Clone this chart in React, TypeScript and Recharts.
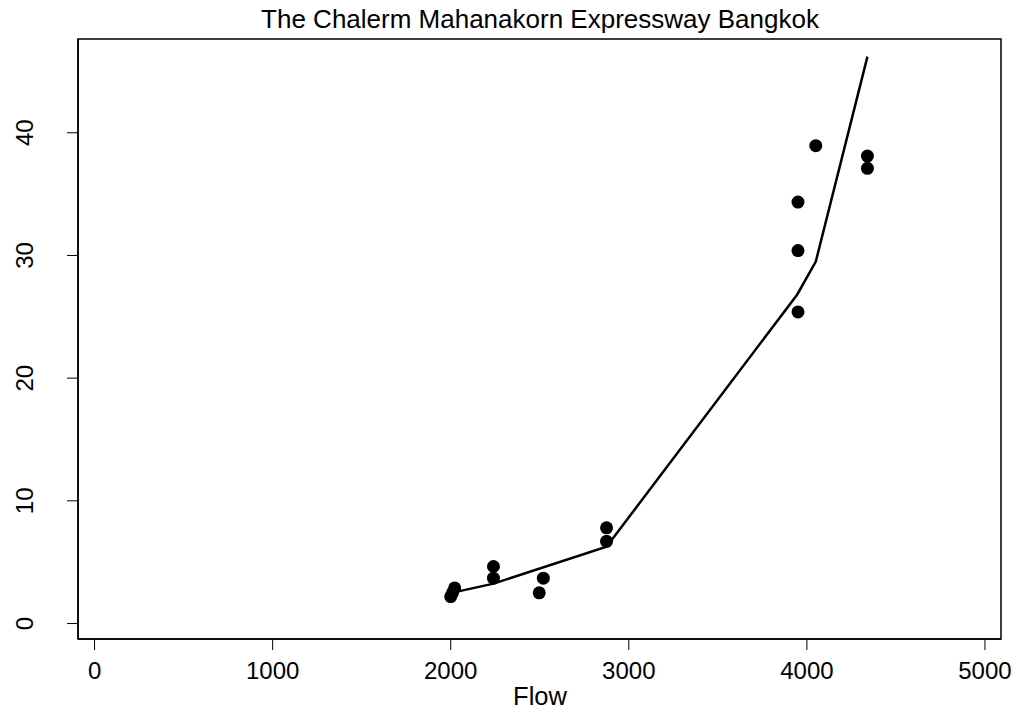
import React from "react";
import {
  ComposedChart,
  XAxis,
  YAxis,
  Line,
  Scatter,
  ReferenceArea,
} from "recharts";

const TITLE = "The Chalerm Mahanakorn Expressway Bangkok";
const X_LABEL = "Flow";

const xTicks = [0, 1000, 2000, 3000, 4000, 5000];
const yTicks = [0, 10, 20, 30, 40];

// observed points
const flowObs = [2000, 2010, 2022, 2240, 2240, 2497, 2520, 2875, 2875, 3950, 3950, 3950, 4050, 4340, 4340];
const valueObs = [2.2, 2.5, 2.9, 4.65, 3.7, 2.5, 3.7, 7.8, 6.7, 25.4, 30.4, 34.35, 38.95, 38.1, 37.1];

// fitted line
const flowFit = [2005, 2240, 2875, 3945, 4050, 4340];
const valueFit = [2.5, 3.25, 6.26, 26.8, 29.5, 46.2];

const X_DOMAIN: [number, number] = [-93, 5090];
const Y_DOMAIN: [number, number] = [-1.26, 47.64];

const scatterData = flowObs.map((x, i) => ({ x, y: valueObs[i] }));
const lineData = flowFit.map((x, i) => ({ x, y: valueFit[i] }));

const FONT = "'Liberation Sans', Arial, Helvetica, sans-serif";

const YTick = (props: any) => {
  const { y, payload } = props;
  const bx = 33;
  return (
    <text
      x={bx}
      y={y}
      transform={`rotate(-90, ${bx}, ${y})`}
      textAnchor="middle"
      fontSize={24}
      fontFamily={FONT}
      fill="#000"
    >
      {payload.value}
    </text>
  );
};

const Dot = (props: any) => {
  const { cx, cy } = props;
  return <circle cx={cx} cy={cy} r={6.5} fill="#000" />;
};

export default function App() {
  const W = 1022;
  const H = 713;
  return (
    <div style={{ position: "absolute", left: 0, top: 0, width: W, height: H, background: "#fff" }}>
      <ComposedChart
        width={W}
        height={H}
        margin={{ top: 39, right: 21, bottom: 0, left: 0 }}
      >
        <XAxis
          type="number"
          dataKey="x"
          domain={X_DOMAIN}
          allowDataOverflow
          ticks={xTicks}
          interval={0}
          height={74}
          tickSize={11}
          tickMargin={12}
          axisLine={{ stroke: "#000", strokeWidth: 1.5 }}
          tickLine={{ stroke: "#000", strokeWidth: 1 }}
          tick={{ fontSize: 24, fontFamily: FONT, fill: "#000" }}
        />
        <YAxis
          type="number"
          dataKey="y"
          domain={Y_DOMAIN}
          allowDataOverflow
          ticks={yTicks}
          interval={0}
          width={78}
          tickSize={11}
          axisLine={{ stroke: "#000", strokeWidth: 1.5 }}
          tickLine={{ stroke: "#000", strokeWidth: 1 }}
          tick={<YTick />}
        />
        <ReferenceArea
          x1={X_DOMAIN[0]}
          x2={X_DOMAIN[1]}
          y1={Y_DOMAIN[0]}
          y2={Y_DOMAIN[1]}
          fill="none"
          stroke="#000"
          strokeWidth={1.5}
          ifOverflow="visible"
        />
        <Line
          data={lineData}
          dataKey="y"
          type="linear"
          stroke="#000"
          strokeWidth={2.5}
          dot={false}
          activeDot={false}
          isAnimationActive={false}
        />
        <Scatter
          data={scatterData}
          dataKey="y"
          fill="#000"
          shape={<Dot />}
          isAnimationActive={false}
        />
      </ComposedChart>
      <svg
        width={W}
        height={H}
        style={{ position: "absolute", left: 0, top: 0, pointerEvents: "none" }}
      >
        <text x={540} y={28} textAnchor="middle" fontSize={26} fontFamily={FONT} fill="#000">
          {TITLE}
        </text>
        <text x={540} y={705} textAnchor="middle" fontSize={25.5} fontFamily={FONT} fill="#000">
          {X_LABEL}
        </text>
      </svg>
    </div>
  );
}
